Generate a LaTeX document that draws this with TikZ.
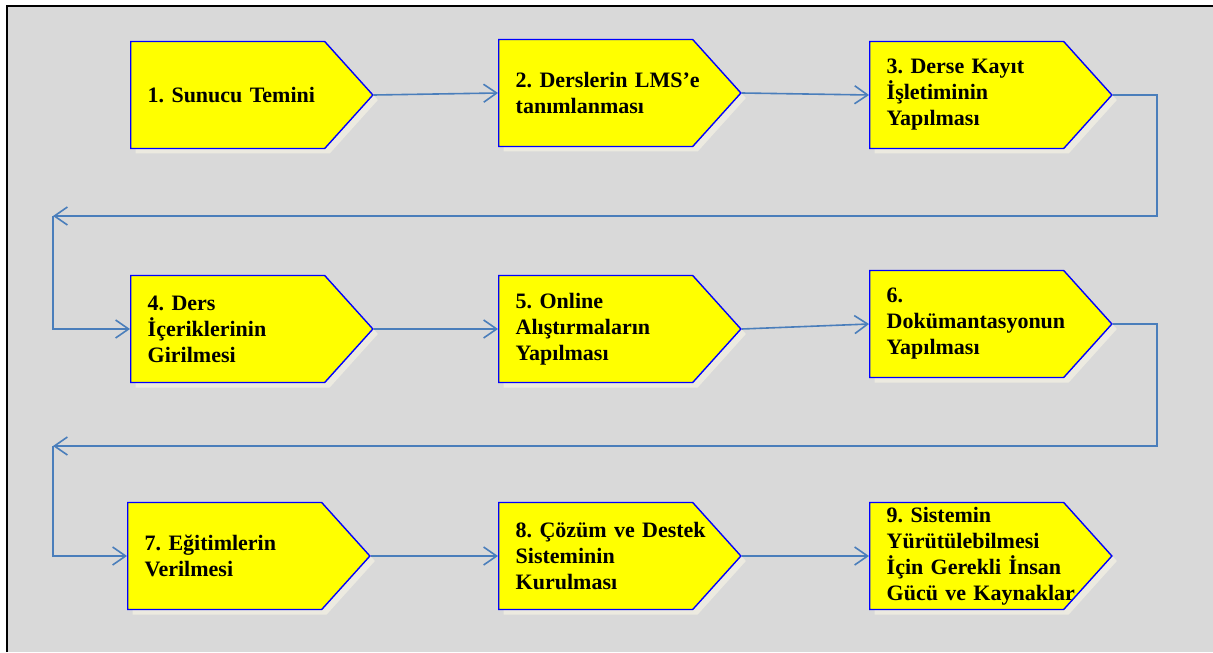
\documentclass[tikz,border=0pt]{standalone}
\usepackage{fontspec}
\setmainfont{Liberation Serif}
\usetikzlibrary{shapes.symbols,shadows,arrows.meta}
\frenchspacing
\hyphenpenalty=10000
\exhyphenpenalty=10000

\begin{document}
\begin{tikzpicture}[x=0.5pt, y=-0.5pt,
    stepBox/.style={signal, signal to=east, signal pointer angle=96,
        draw=borderColour, fill=fillColour, line width=0.7pt,
        text width=80pt, inner xsep=8.5pt, inner ysep=0pt, minimum height=53.5pt,
        align=left, anchor=west, font=\bfseries\fontsize{11}{13}\selectfont,
        drop shadow={shadow xshift=2.5pt, shadow yshift=-2.5pt, fill=shadowColour, opacity=1}},
    flow/.style={draw=lineColour, line width=0.8pt, -{Straight Barb[length=6.5pt,width=9pt]}}]
    \definecolor{borderColour}{HTML}{0000FF}
    \definecolor{fillColour}{HTML}{FFFF00}
    \definecolor{shadowColour}{HTML}{ECEAE0}
    \definecolor{lineColour}{HTML}{4A7EBB}
    \definecolor{backColour}{HTML}{D9D9D9}

    \useasboundingbox (0,0) rectangle (1213,652);

    % Draw frame
    \fill[backColour] (7,6) rectangle (1213,652);
    \draw[black, line width=1.3pt] (7,652) -- (7,6) -- (1213,6);

    % Steps, first row
    \node[stepBox] (S1) at (130,95) {1.~Sunucu~Temini};
    \node[stepBox] (S2) at (498,93) {2.~Derslerin~LMS’e\\tanımlanması};
    \node[stepBox] (S3) at (869,95) {3.~Derse~Kayıt\\İşletiminin\\Yapılması};

    % Steps, second row
    \node[stepBox] (S4) at (130,329) {4.~Ders\\İçeriklerinin\\Girilmesi};
    \node[stepBox] (S5) at (498,329) {5.~Online\\Alıştırmaların\\Yapılması};
    \node[stepBox] (S6) at (869,324) {6.\\Dokümantasyonun\\Yapılması};

    % Steps, third row
    \node[stepBox] (S7) at (127,556) {7.~Eğitimlerin\\Verilmesi};
    \node[stepBox] (S8) at (498,556) {8.~Çözüm~ve~Destek\\Sisteminin\\Kurulması};
    \node[stepBox] (S9) at (869,556) {9.~Sistemin\\Yürütülebilmesi\\İçin~Gerekli~İnsan\\Gücü~ve~Kaynaklar};

    % Turning points
    \coordinate (R1) at (1157,216);
    \coordinate (L1) at (53,216);
    \coordinate (R2) at (1157,446);
    \coordinate (L2) at (53,446);

    % Draw connectors
    \draw[flow] (S1.east) -- (S2.west);
    \draw[flow] (S2.east) -- (S3.west);
    \draw[flow] (S3.east) -| (R1) -- (L1);
    \draw[flow] (L1) |- (S4.west);
    \draw[flow] (S4.east) -- (S5.west);
    \draw[flow] (S5.east) -- (S6.west);
    \draw[flow] (S6.east) -| (R2) -- (L2);
    \draw[flow] (L2) |- (S7.west);
    \draw[flow] (S7.east) -- (S8.west);
    \draw[flow] (S8.east) -- (S9.west);

\end{tikzpicture}
\end{document}
